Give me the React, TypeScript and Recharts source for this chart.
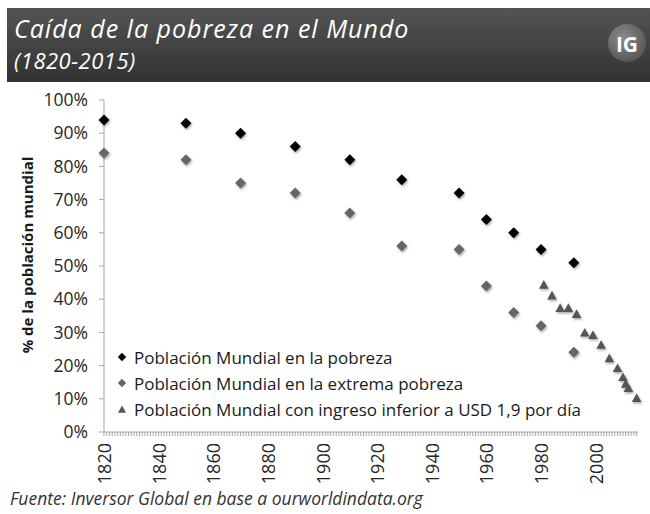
import React from 'react';
import { ScatterChart, Scatter, XAxis, YAxis, Legend } from 'recharts';

// Bourguignon & Morrisson years (series 1 and 2)
const historicYears = [1820, 1850, 1870, 1890, 1910, 1929, 1950, 1960, 1970, 1980, 1992];
const povertyPct = [94, 93, 90, 86, 82, 76, 72, 64, 60, 55, 51];
const extremePct = [84, 82, 75, 72, 66, 56, 55, 44, 36, 32, 24];

// World Bank years (USD 1,9 per day)
const wbYears = [1981, 1984, 1987, 1990, 1993, 1996, 1999, 2002, 2005, 2008, 2010, 2011, 2012, 2015];
const wbPct = [44.3, 41.1, 37.3, 37.3, 35.5, 29.9, 29.2, 26.2, 22.2, 19.2, 16.5, 14.5, 13.2, 10.2];

const seriesNames = [
  'Población Mundial en la pobreza',
  'Población Mundial en la extrema pobreza',
  'Población Mundial con ingreso inferior a USD 1,9 por día',
];

const yearLabels = [1820, 1840, 1860, 1880, 1900, 1920, 1940, 1960, 1980, 2000];
const pctTicks = [0, 10, 20, 30, 40, 50, 60, 70, 80, 90, 100];

const FONT = '"Open Sans", sans-serif';

const toPoints = (years: number[], values: number[]) =>
  years.map((year, i) => ({ year, value: values[i] }));

// one minor tick per year on the category-like x axis
const yearTicks: number[] = [];
for (let y = 1820; y <= 2015; y++) yearTicks.push(y);

const diamondPath = (cx: number, cy: number, r: number) =>
  `M${cx},${cy - r}L${cx + r},${cy}L${cx},${cy + r}L${cx - r},${cy}Z`;

const trianglePoints = (cx: number, cy: number, r: number) =>
  `${cx},${cy - r} ${cx + r},${cy + r * 0.8} ${cx - r},${cy + r * 0.8}`;

const Diamond = (props: any) => {
  const { cx, cy, fill } = props;
  if (cx == null || cy == null) return <g />;
  return <path d={diamondPath(cx, cy, 5.5)} fill={fill} filter="url(#markerShadow)" />;
};

const Triangle = (props: any) => {
  const { cx, cy, fill } = props;
  if (cx == null || cy == null) return <g />;
  return <polygon points={trianglePoints(cx, cy, 4.8)} fill={fill} filter="url(#markerShadow)" />;
};

const YearTick = ({ x, y, payload }: any) => {
  if (!yearLabels.includes(payload.value)) return <g />;
  return (
    <text
      x={x}
      y={y}
      transform={`rotate(-90 ${x} ${y})`}
      textAnchor="end"
      dominantBaseline="central"
      fontSize={18}
      fontFamily={FONT}
      fill="#262626"
    >
      {payload.value}
    </text>
  );
};

const LegendContent = ({ payload }: any) => {
  const items = [...(payload || [])].sort(
    (a: any, b: any) => seriesNames.indexOf(a.value) - seriesNames.indexOf(b.value)
  );
  return (
    <div style={{ fontFamily: FONT, fontSize: 17, color: '#1a1a1a' }}>
      {items.map((entry: any, i: number) => (
        <div key={i} style={{ display: 'flex', alignItems: 'center', height: 26, whiteSpace: 'nowrap' }}>
          <svg width={12} height={12} style={{ flex: 'none' }}>
            {entry.type === 'triangle' ? (
              <polygon points={trianglePoints(6, 6.5, 4)} fill={entry.color} />
            ) : (
              <path d={diamondPath(6, 6, 4.2)} fill={entry.color} />
            )}
          </svg>
          <span style={{ marginLeft: 6 }}>{entry.value}</span>
        </div>
      ))}
    </div>
  );
};

export default function App() {
  return (
    <div
      style={{
        position: 'absolute',
        left: 0,
        top: 0,
        width: 650,
        height: 514,
        background: '#fff',
        overflow: 'hidden',
        fontFamily: FONT,
      }}
    >
      <svg width={0} height={0} style={{ position: 'absolute' }}>
        <defs>
          <filter id="markerShadow" x="-60%" y="-60%" width="220%" height="220%">
            <feDropShadow dx="1" dy="1.5" stdDeviation="1" floodColor="#000" floodOpacity="0.35" />
          </filter>
        </defs>
      </svg>

      <ScatterChart
        width={650}
        height={514}
        margin={{ top: 100, right: 12, bottom: 32, left: 0 }}
      >
        <XAxis
          type="number"
          dataKey="year"
          domain={[1820, 2015.5]}
          ticks={yearTicks}
          interval={0}
          tick={<YearTick />}
          tickSize={4}
          tickMargin={7}
          height={50}
          axisLine={{ stroke: '#a6a6a6' }}
          tickLine={{ stroke: '#a6a6a6' }}
        />
        <YAxis
          type="number"
          dataKey="value"
          domain={[0, 100]}
          ticks={pctTicks}
          interval={0}
          width={104}
          tickFormatter={(v: number) => `${v}%`}
          tick={{ fill: '#262626', fontSize: 17.5, fontFamily: FONT }}
          tickSize={5}
          tickMargin={11}
          axisLine={{ stroke: '#a6a6a6' }}
          tickLine={{ stroke: '#a6a6a6' }}
          label={{
            content: ({ viewBox }: any) => {
              const x = viewBox.x + 27;
              const y = viewBox.y + viewBox.height / 2 - 11;
              return (
                <text
                  x={x}
                  y={y}
                  transform={`rotate(-90 ${x} ${y})`}
                  textAnchor="middle"
                  dominantBaseline="central"
                  fontSize={15}
                  fontWeight={700}
                  fontFamily={FONT}
                  fill="#1a1a1a"
                >
                  % de la población mundial
                </text>
              );
            },
          }}
        />
        <Legend
          layout="vertical"
          align="center"
          verticalAlign="middle"
          content={<LegendContent />}
          wrapperStyle={{ left: 116, top: 344, width: 530 }}
        />
        <Scatter
          name={seriesNames[0]}
          data={toPoints(historicYears, povertyPct)}
          fill="#000000"
          legendType="diamond"
          shape={<Diamond />}
          isAnimationActive={false}
        />
        <Scatter
          name={seriesNames[1]}
          data={toPoints(historicYears, extremePct)}
          fill="#666666"
          legendType="diamond"
          shape={<Diamond />}
          isAnimationActive={false}
        />
        <Scatter
          name={seriesNames[2]}
          data={toPoints(wbYears, wbPct)}
          fill="#555555"
          legendType="triangle"
          shape={<Triangle />}
          isAnimationActive={false}
        />
      </ScatterChart>

      {/* header banner */}
      <svg
        width={650}
        height={90}
        style={{ position: 'absolute', left: 0, top: 0, pointerEvents: 'none' }}
      >
        <defs>
          <linearGradient id="bannerBg" x1="0" y1="0" x2="0" y2="1">
            <stop offset="0%" stopColor="#545454" />
            <stop offset="100%" stopColor="#323232" />
          </linearGradient>
          <radialGradient id="logoBg" cx="40%" cy="35%" r="70%">
            <stop offset="0%" stopColor="#8a8a8a" />
            <stop offset="100%" stopColor="#555555" />
          </radialGradient>
        </defs>
        <rect x={7} y={8} width={643} height={74} fill="url(#bannerBg)" />
        <text x={14} y={38} fill="#ffffff" fontSize={25} letterSpacing={1} fontStyle="italic" fontFamily={FONT}>
          Caída de la pobreza en el Mundo
        </text>
        <text x={14} y={69} fill="#ffffff" fontSize={22} letterSpacing={0.5} fontStyle="italic" fontFamily={FONT}>
          (1820-2015)
        </text>
        <circle cx={627} cy={43} r={19} fill="url(#logoBg)" />
        <text
          x={627}
          y={44}
          fill="#ffffff"
          fontSize={21}
          fontWeight={700}
          textAnchor="middle"
          dominantBaseline="central"
          fontFamily={FONT}
        >
          IG
        </text>
      </svg>

      {/* source note */}
      <svg
        width={650}
        height={30}
        style={{ position: 'absolute', left: 0, top: 484, pointerEvents: 'none' }}
      >
        <text x={10} y={21} fill="#333333" fontSize={17.5} fontStyle="italic" fontFamily={FONT}>
          Fuente: Inversor Global en base a ourworldindata.org
        </text>
      </svg>
    </div>
  );
}
